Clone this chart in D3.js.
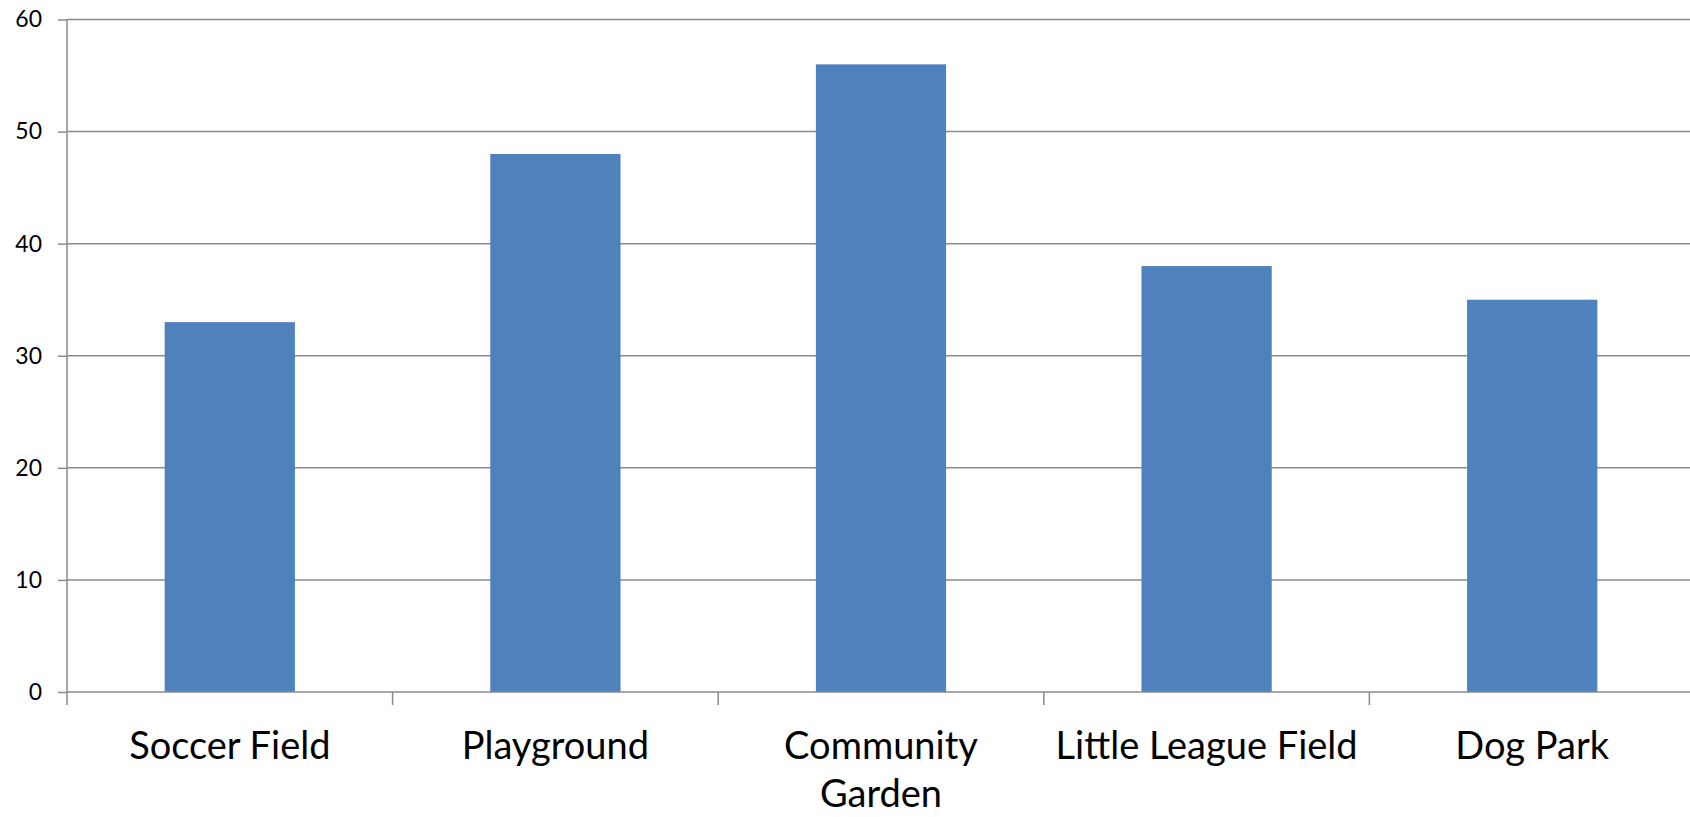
<!DOCTYPE html>
<html>
<head>
<meta charset="utf-8">
<script src="https://cdn.jsdelivr.net/npm/d3@7"></script>
<style>
  html, body { margin: 0; padding: 0; background: #fff; }
  svg { display: block; }
  text { font-family: Lato, "Liberation Sans", sans-serif; fill: #000; }
</style>
</head>
<body>
<svg id="chart" width="1690" height="817"></svg>
<script>
// Chart data
const categories = ["Soccer Field", "Playground", "Community Garden", "Little League Field", "Dog Park"];
const values = [33, 48, 56, 38, 35];
const yTicks = [0, 10, 20, 30, 40, 50, 60];

const width = 1690, height = 817;
const margin = { top: 19.5, right: -5, bottom: 125, left: 67 };

const svg = d3.select("#chart");

const x = d3.scaleBand()
  .domain(categories)
  .range([margin.left, width - margin.right])
  .paddingInner(0.6)
  .paddingOuter(0.3);

const y = d3.scaleLinear()
  .domain([0, 60])
  .range([height - margin.bottom, margin.top]);

const gridColor = "#8a8a8a";

// Horizontal gridlines
svg.append("g")
  .selectAll("line")
  .data(yTicks.filter(d => d > 0))
  .join("line")
  .attr("x1", margin.left)
  .attr("x2", width)
  .attr("y1", d => y(d))
  .attr("y2", d => y(d))
  .attr("stroke", gridColor)
  .attr("stroke-width", 1.5);

// Y axis
const yAxis = svg.append("g")
  .attr("transform", `translate(${margin.left},0)`)
  .call(d3.axisLeft(y).tickValues(yTicks).tickSize(9).tickPadding(16));
yAxis.select(".domain").attr("stroke", gridColor).attr("stroke-width", 1.5)
  .attr("d", `M0,${y(0)}V${y(60)}`);
yAxis.selectAll(".tick line").attr("stroke", gridColor).attr("stroke-width", 1.5);
yAxis.selectAll(".tick text")
  .attr("font-size", 23)
  .style("font-family", "Lato, 'Liberation Sans', sans-serif")
  .attr("fill", "#000");

// Bars
svg.append("g")
  .selectAll("rect")
  .data(categories.map((c, i) => ({ c, v: values[i] })))
  .join("rect")
  .attr("x", d => x(d.c))
  .attr("y", d => y(d.v))
  .attr("width", x.bandwidth())
  .attr("height", d => y(0) - y(d.v))
  .attr("fill", "#4f81bd");

// X axis with category boundary ticks
const step = x.step();
const x0 = margin.left;
const boundaries = d3.range(categories.length + 1).map(i => x0 + i * step);

svg.append("line")
  .attr("x1", x0).attr("x2", width)
  .attr("y1", y(0)).attr("y2", y(0))
  .attr("stroke", gridColor).attr("stroke-width", 1.5);

svg.append("g")
  .selectAll("line")
  .data(boundaries)
  .join("line")
  .attr("x1", d => d).attr("x2", d => d)
  .attr("y1", y(0)).attr("y2", y(0) + 13)
  .attr("stroke", gridColor).attr("stroke-width", 1.5);

// Category labels, wrapped to the category width
const labelSize = 38;
const labels = svg.append("g")
  .selectAll("text")
  .data(categories)
  .join("text")
  .attr("text-anchor", "middle")
  .attr("font-size", labelSize)
  .attr("x", d => x(d) + x.bandwidth() / 2)
  .attr("y", 759);

labels.each(function (d) {
  const t = d3.select(this);
  const cx = x(d) + x.bandwidth() / 2;
  const words = d.split(" ");
  let line = [];
  let lines = [];
  const probe = t.append("tspan");
  for (const w of words) {
    const trial = line.concat(w).join(" ");
    probe.text(trial);
    if (probe.node().getComputedTextLength() > step - 8 && line.length) {
      lines.push(line.join(" "));
      line = [w];
    } else {
      line.push(w);
    }
  }
  lines.push(line.join(" "));
  probe.remove();
  lines.forEach((ln, i) => {
    t.append("tspan")
      .attr("x", cx)
      .attr("dy", i === 0 ? 0 : 48)
      .text(ln);
  });
});
</script>
</body>
</html>
